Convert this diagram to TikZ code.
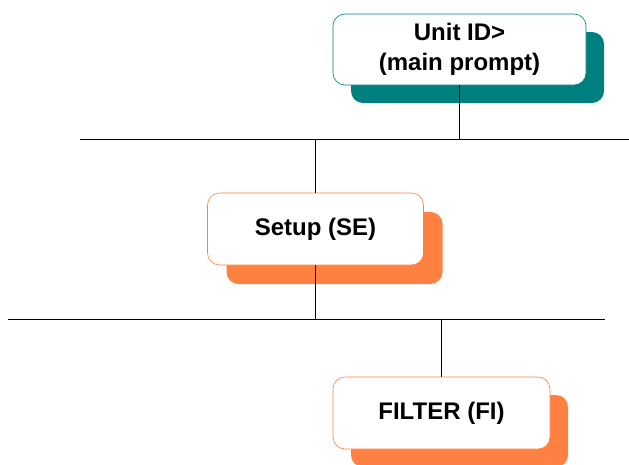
\documentclass[tikz,border=0pt]{standalone}
\usepackage{fontspec}
\setmainfont{Liberation Sans}
\usetikzlibrary{shadows}
\definecolor{tealshade}{HTML}{007F7F}
\definecolor{orangeshade}{HTML}{FF8040}

\begin{document}
\begin{tikzpicture}[x=1pt,y=1pt]
\tikzstyle{menubox}=[rectangle, rounded corners=12pt, fill=white, line width=0.6pt,
  inner sep=0pt, align=center, font=\fontsize{24}{30}\selectfont\bfseries]
\tikzstyle{bus}=[black, line width=1.3pt]
\useasboundingbox (0,0) rectangle (629,-464);
\node [menubox, draw=tealshade, minimum width=253, minimum height=71,
  general shadow={fill=tealshade, shadow xshift=18pt, shadow yshift=-18pt}]
  (unit) at (459.5,-49.5) {Unit ID>\\(main prompt)};
\node [menubox, draw=orangeshade, minimum width=216, minimum height=72,
  general shadow={fill=orangeshade, shadow xshift=19pt, shadow yshift=-19pt}]
  (setup) at (315.5,-229) {Setup (SE)};
\node [menubox, draw=orangeshade, minimum width=217, minimum height=72,
  general shadow={fill=orangeshade, shadow xshift=18pt, shadow yshift=-18pt}]
  (filter) at (441.5,-413) {FILTER (FI)};
\coordinate (busAw) at (80,-139.5);
\coordinate (busAe) at (629,-139.5);
\coordinate (busBw) at (8,-319.5);
\coordinate (busBe) at (605,-319.5);
\draw [bus] (busAw) -- (busAe);
\draw [bus] (busBw) -- (busBe);
\draw [bus] (unit.south) -- (unit |- busAw);
\draw [bus] (setup.north) -- (setup |- busAw);
\draw [bus] (setup.south) -- (setup |- busBw);
\draw [bus] (filter.north) -- (filter |- busBw);
\end{tikzpicture}
\end{document}
